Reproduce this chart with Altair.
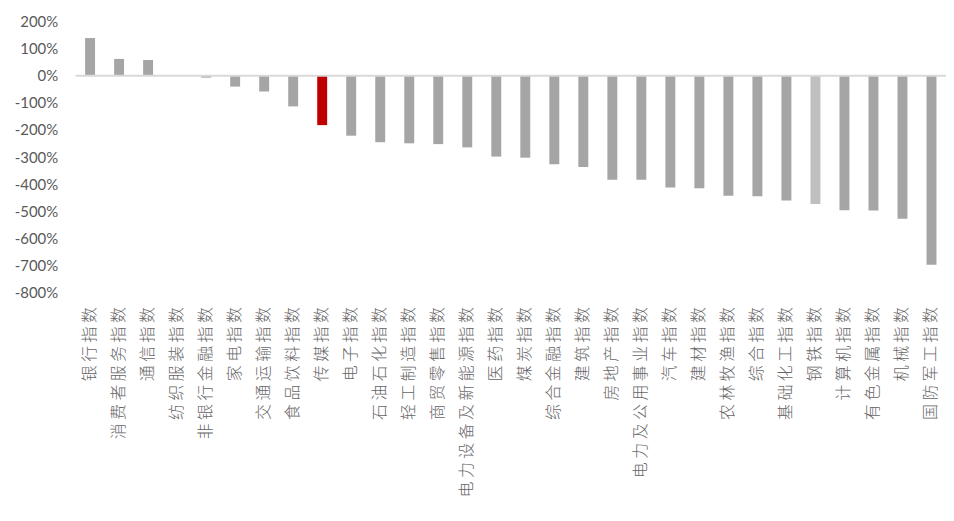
import altair as alt
import pandas as pd

categories = ["银行指数", "消费者服务指数", "通信指数", "纺织服装指数", "非银行金融指数",
              "家电指数", "交通运输指数", "食品饮料指数", "传媒指数", "电子指数",
              "石油石化指数", "轻工制造指数", "商贸零售指数", "电力设备及新能源指数", "医药指数",
              "煤炭指数", "综合金融指数", "建筑指数", "房地产指数", "电力及公用事业指数",
              "汽车指数", "建材指数", "农林牧渔指数", "综合指数", "基础化工指数",
              "钢铁指数", "计算机指数", "有色金属指数", "机械指数", "国防军工指数"]
values = [139, 62, 58, -1, -7, -40, -58, -113, -182, -221,
          -245, -249, -252, -264, -298, -302, -326, -336, -383, -383,
          -412, -415, -442, -444, -460, -473, -496, -497, -527, -697]
highlight = {"传媒指数": "#c00000", "钢铁指数": "#bfbfbf"}
base_color = "#a5a5a5"
y_ticks = [200, 100, 0, -100, -200, -300, -400, -500, -600, -700, -800]

labels = [" ".join(list(c)) for c in categories]
df = pd.DataFrame({
    "label": labels,
    "value": values,
    "color": [highlight.get(c, base_color) for c in categories],
})

y_scale = alt.Scale(domain=[-800, 200], nice=False, zero=False)
y_axis = alt.Axis(title=None, values=y_ticks, labelExpr="datum.value + '%'",
                  ticks=False, domain=False, grid=False, labelPadding=18,
                  labelOverlap=False,
                  labelFont="Lato", labelFontSize=15, labelColor="#595959")

bars = alt.Chart(df).mark_bar(size=10).encode(
    x=alt.X("label:N", sort=labels,
            scale=alt.Scale(paddingInner=0.66, paddingOuter=0.33),
            axis=alt.Axis(title=None, labelAngle=-90, labelPadding=14, ticks=False,
                          domain=False, labelFont="Noto Sans CJK SC", labelFontSize=16,
                          labelFontWeight=300, labelColor="#666666", labelLimit=400,
                          labelOverlap=False)),
    y=alt.Y("value:Q", scale=y_scale, axis=y_axis),
    color=alt.Color("color:N", scale=None),
)

zero = alt.Chart(pd.DataFrame({"v": [0]})).mark_rule(color="#d9d9d9", strokeWidth=2).encode(
    y=alt.Y("v:Q", scale=y_scale, axis=y_axis)
)

chart = alt.layer(bars, zero).properties(
    width=876, height=273,
    autosize=alt.AutoSizeParams(type="none"),
    padding={"left": 68, "top": 12, "right": 0, "bottom": 211},
).configure_view(stroke=None)

chart.save("out.html", embed_options={"renderer": "svg", "actions": False})
